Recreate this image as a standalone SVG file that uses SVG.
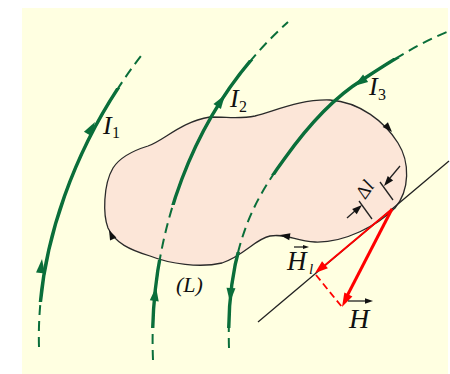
<svg xmlns="http://www.w3.org/2000/svg" xmlns:xlink="http://www.w3.org/1999/xlink" width="450" height="374" viewBox="0 0 450 374">
<style>
.bg{fill:#ffffe1}
.blob{fill:#fce6d8;stroke:#2a2a2a;stroke-width:1.3}
.gdash{fill:none;stroke:#0a6e3a;stroke-width:2;stroke-dasharray:10 6}
.gsol{fill:none;stroke:#0a6e3a;stroke-width:3.4}
.garr{fill:#0a6e3a}
.karr{fill:#111}
.kline{fill:none;stroke:#222;stroke-width:1.3}
.red{fill:none;stroke:#ff0000}
.rarr{fill:#ff0000}
.lab{font-family:"Liberation Serif","Times New Roman",serif;font-style:italic;fill:#111}
.sub{font-family:"Liberation Serif","Times New Roman",serif;fill:#111}
</style>
<defs>
<path id="gh" d="M0,0 L-14,-4.5 L-14,4.5 Z"/>
<path id="kh" d="M0,0 L-10,-3.5 L-10,3.5 Z"/>
<clipPath id="c1"><rect x="0" y="88" width="450" height="214"/></clipPath>
<clipPath id="c2"><rect x="0" y="60" width="450" height="145"/><rect x="0" y="260" width="450" height="68"/></clipPath>
<clipPath id="c3"><rect x="0" y="58" width="450" height="117"/><rect x="0" y="252" width="450" height="76"/></clipPath>
</defs>
<rect class="bg" x="22" y="8" width="426" height="366"/>
<g id="loop">
<path class="blob" d="M210,117 C230,117 240,119 255,116 C275,111 300,99 330,100 C360,102 385,122 398,143 C410,162 410,190 395,208 C378,225 345,243 315,242 C295,241 285,233 270,236 C255,239 245,255 222,263 C200,268 170,264 150,256 C130,250 115,243 108,228 C103,215 103,185 113,168 C120,157 135,150 148,146 C165,140 180,122 210,117 Z"/>
<use xlink:href="#kh" class="karr" transform="translate(392,132) rotate(48)"/>
<use xlink:href="#kh" class="karr" transform="translate(280,235) rotate(190)"/>
<use xlink:href="#kh" class="karr" transform="translate(109,230) rotate(-115)"/>
</g>
<g id="connectors">
<g id="current1">
<path class="gdash" d="M39,347 C36,250 75,140 144,52"/>
<path class="gsol" clip-path="url(#c1)" d="M39,347 C36,250 75,140 144,52"/>
<use xlink:href="#gh" class="garr" transform="translate(95,122) rotate(-59)"/>
<use xlink:href="#gh" class="garr" transform="translate(42,259) rotate(-84)"/>
</g>
<g id="current2">
<path class="gdash" d="M153,360 C148,240 190,110 288,22"/>
<path class="gsol" clip-path="url(#c2)" d="M153,360 C148,240 190,110 288,22"/>
<use xlink:href="#gh" class="garr" transform="translate(156,287) rotate(-83)"/>
<use xlink:href="#gh" class="garr" transform="translate(225,95) rotate(-56)"/>
</g>
<g id="current3">
<path class="gdash" d="M229,348 C228,320 230,280 240,245 C250,210 265,185 285,158 C305,130 330,100 362,80 C385,65 415,45 447,32"/>
<path class="gsol" clip-path="url(#c3)" d="M229,348 C228,320 230,280 240,245 C250,210 265,185 285,158 C305,130 330,100 362,80 C385,65 415,45 447,32"/>
<use xlink:href="#gh" class="garr" transform="translate(230,302) rotate(94)"/>
<use xlink:href="#gh" class="garr" transform="translate(354,86) rotate(146)"/>
</g>
<g id="tangent">
<line class="kline" x1="258" y1="322" x2="449" y2="161"/>
</g>
<g id="dimension">
<line class="kline" x1="359" y1="201" x2="372" y2="219"/>
<line class="kline" x1="380" y1="182" x2="393" y2="200"/>
<line class="kline" x1="347" y1="218" x2="356" y2="210"/>
<use xlink:href="#kh" class="karr" transform="translate(362,205) rotate(-41)"/>
<line class="kline" x1="400" y1="166" x2="390" y2="178"/>
<use xlink:href="#kh" class="karr" transform="translate(384,186) rotate(130)"/>
</g>
<g id="vectors">
<line class="red" stroke-width="3" x1="392" y1="209" x2="346" y2="298"/>
<use xlink:href="#gh" class="rarr" transform="translate(342,307) rotate(117)"/>
<line class="red" stroke-width="1.8" x1="392" y1="209" x2="324" y2="266"/>
<use xlink:href="#kh" class="rarr" transform="translate(315,273) rotate(140) scale(1.3)"/>
<line class="red" stroke-width="1.8" stroke-dasharray="7 4" x1="316" y1="275" x2="342" y2="307"/>
</g>
</g>
<g id="labels">
<text class="lab" x="103" y="134" font-size="26">I</text><text class="sub" x="112" y="138" font-size="16">1</text>
<text class="lab" x="230" y="107" font-size="26">I</text><text class="sub" x="239" y="112" font-size="16">2</text>
<text class="lab" x="369" y="95" font-size="26">I</text><text class="sub" x="378" y="100" font-size="16">3</text>
<text class="lab" x="176" y="292" font-size="22">(L)</text>
<g id="H1label">
<text class="lab" x="287" y="270" font-size="27">H</text><text class="lab" x="309" y="274" font-size="15">l</text>
<line class="kline" x1="294" y1="247" x2="305" y2="247"/>
<use xlink:href="#kh" class="karr" transform="translate(309,247) scale(0.6)"/>
</g>
<g id="Hlabel">
<text class="lab" x="349" y="328" font-size="28">H</text>
<line class="kline" x1="348" y1="301" x2="366" y2="301"/>
<use xlink:href="#kh" class="karr" transform="translate(373,301) scale(0.8)"/>
</g>
<text class="lab" font-size="19" transform="translate(370,193) rotate(-55)" text-anchor="middle"><tspan font-style="normal">Δ</tspan>l</text>
</g>
</svg>
